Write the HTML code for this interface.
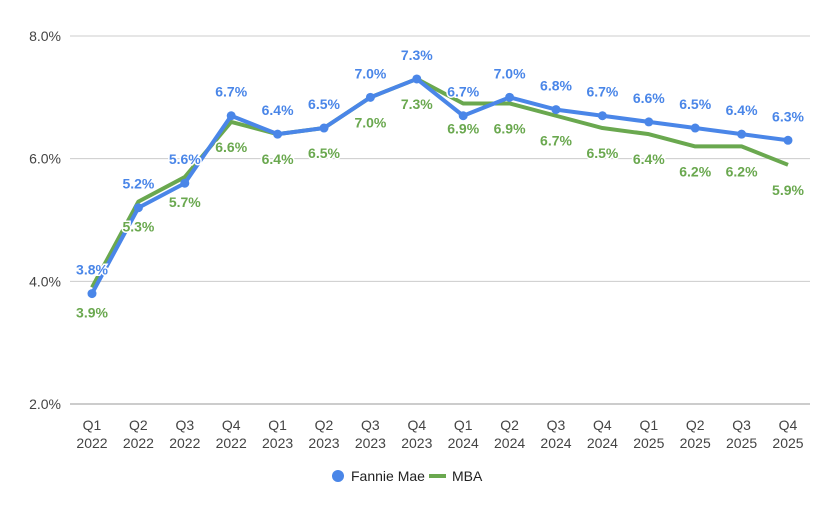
<!DOCTYPE html>
<html><head><meta charset="utf-8"><style>
body{margin:0;background:#fff;font-family:"Liberation Sans",Arial,sans-serif}
svg{display:block}
.lbl{font-weight:bold;font-size:14px;text-anchor:middle;paint-order:stroke;stroke:#fff;stroke-width:3px}
.ax{font-size:14px;fill:#444}
</style></head><body>
<svg id="chart" width="837" height="512"></svg>
<script>
const categories=["Q1|2022","Q2|2022","Q3|2022","Q4|2022","Q1|2023","Q2|2023","Q3|2023","Q4|2023","Q1|2024","Q2|2024","Q3|2024","Q4|2024","Q1|2025","Q2|2025","Q3|2025","Q4|2025"];
const fannieMae=[3.8,5.2,5.6,6.7,6.4,6.5,7.0,7.3,6.7,7.0,6.8,6.7,6.6,6.5,6.4,6.3];
const mba=[3.9,5.3,5.7,6.6,6.4,6.5,7.0,7.3,6.9,6.9,6.7,6.5,6.4,6.2,6.2,5.9];
const yTicks=[2,4,6,8];
const svg=document.getElementById('chart');
const NS='http://www.w3.org/2000/svg';
const x=i=>92+i*46.4;
const y=v=>404-(v-2)*61.33;
function mk(t,a,txt){const e=document.createElementNS(NS,t);for(const k in a)e.setAttribute(k,a[k]);if(txt!=null)e.textContent=txt;svg.appendChild(e);return e;}
yTicks.forEach(t=>{
 const g=mk('line',{x1:70,x2:810,y1:y(t),y2:y(t),stroke:t===2?'#999':'#ccc','stroke-width':1});
 
 
 const l=mk('text',{x:61,y:y(t)+5,'text-anchor':'end',class:'ax'},t.toFixed(1)+'%');
 
 
});
categories.forEach((c,i)=>{
 const [q,yr]=c.split('|');
 const t1=mk('text',{x:x(i),y:430,'text-anchor':'middle',class:'ax'},q);
 
 
 const t2=mk('text',{x:x(i),y:448,'text-anchor':'middle',class:'ax'},yr);
 
 
});
const mp=mk('polyline',{points:mba.map((v,i)=>x(i)+','+y(v)).join(' '),fill:'none',stroke:'#6aa84f','stroke-width':4,'stroke-linejoin':'round'});


const fp=mk('polyline',{points:fannieMae.map((v,i)=>x(i)+','+y(v)).join(' '),fill:'none',stroke:'#4a86e8','stroke-width':4,'stroke-linejoin':'round'});


fannieMae.forEach((v,i)=>{
 const d=mk('circle',{cx:x(i),cy:y(v),r:4.5,fill:'#4a86e8'});
 
 
});
fannieMae.forEach((v,i)=>{
 const t=mk('text',{x:x(i),y:y(v)-19,class:'lbl',fill:'#4a86e8'},v.toFixed(1)+'%');
 
 
});
mba.forEach((v,i)=>{
 const t=mk('text',{x:x(i),y:y(v)+30,class:'lbl',fill:'#6aa84f'},v.toFixed(1)+'%');
 
 
});
const ld=mk('circle',{cx:338,cy:476,r:6,fill:'#4a86e8'});


const lt=mk('text',{x:351,y:481,'font-size':14,fill:'#222'},'Fannie Mae');


const ll=mk('line',{x1:429,x2:446,y1:476,y2:476,stroke:'#6aa84f','stroke-width':4});


const lt2=mk('text',{x:452,y:481,'font-size':14,fill:'#222'},'MBA');


</script>
</body></html>
